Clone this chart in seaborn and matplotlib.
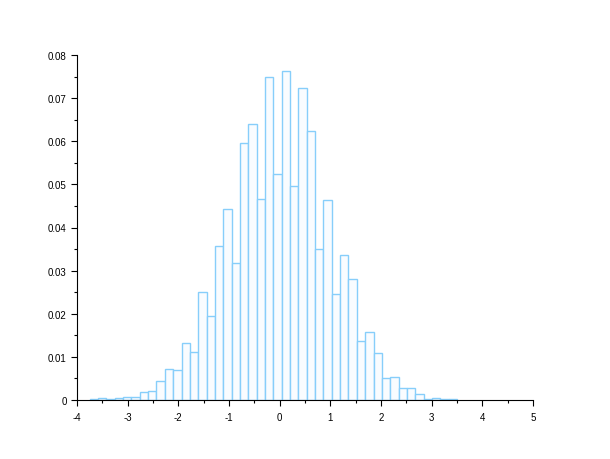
import numpy as np
import pandas as pd
import seaborn as sns
import matplotlib.pyplot as plt
from matplotlib.ticker import MultipleLocator


#histogram values (normalized heights, 44 equal bins)
bin_start = -3.75
bin_end = 3.5
n_bins = 44
heights = [0.00015, 0.0004, 0.0002, 0.0004, 0.0006, 0.0006, 0.0018, 0.0020,
           0.0043, 0.0071, 0.0069, 0.0132, 0.0111, 0.0251, 0.0195, 0.0358,
           0.0442, 0.0317, 0.0595, 0.0641, 0.0467, 0.0750, 0.0523, 0.0764,
           0.0497, 0.0724, 0.0623, 0.0349, 0.0463, 0.0245, 0.0337, 0.0280,
           0.0136, 0.0158, 0.0110, 0.0050, 0.0053, 0.0027, 0.0027, 0.0015,
           0.00015, 0.0005, 0.00015, 0.00015]
x_ticks = [-4, -3, -2, -1, 0, 1, 2, 3, 4, 5]
y_ticks = [0, 0.01, 0.02, 0.03, 0.04, 0.05, 0.06, 0.07, 0.08]

edges = np.linspace(bin_start, bin_end, n_bins + 1)
df = pd.DataFrame({"center": (edges[:-1] + edges[1:]) / 2, "height": heights})

sns.set_style("white")
plt.rcParams['font.family'] = ['Liberation Sans', 'DejaVu Sans']

fig = plt.figure(figsize=(6.1, 4.6), dpi=100)
ax = fig.add_axes([77 / 610, 1 - 401 / 460, 456 / 610, 345 / 460])

sns.histplot(data=df, x="center", weights="height", bins=edges.tolist(),
             stat="count", element="bars", facecolor="#f9fcff",
             edgecolor="#87cefa", linewidth=1.0, alpha=1, ax=ax)

ax.set_xlim(-4, 5)
ax.set_ylim(0, 0.08)
ax.set_xticks(x_ticks)
ax.set_xticklabels([str(t) for t in x_ticks])
ax.set_yticks(y_ticks)
ax.set_yticklabels(["0" if t == 0 else f"{t:.2f}" for t in y_ticks])
ax.xaxis.set_minor_locator(MultipleLocator(0.5))
ax.yaxis.set_minor_locator(MultipleLocator(0.005))
ax.set_xlabel("")
ax.set_ylabel("")

for side in ["top", "right"]:
    ax.spines[side].set_visible(False)
for side in ["left", "bottom"]:
    ax.spines[side].set_color("black")
    ax.spines[side].set_linewidth(0.8)

ax.tick_params(which="major", direction="out", length=4, width=0.8,
               colors="black", labelsize=7, left=True, bottom=True)
ax.tick_params(which="minor", direction="out", length=2.2, width=0.8,
               colors="black", left=True, bottom=True)
ax.tick_params(axis="x", which="major", pad=5)
ax.tick_params(axis="y", which="major", pad=3.5)

fig.savefig("out.png", dpi=100)
